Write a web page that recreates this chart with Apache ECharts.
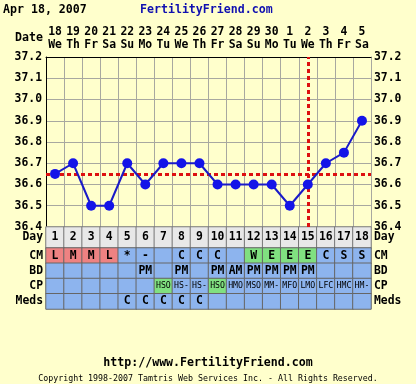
<!DOCTYPE html>
<html><head><meta charset="utf-8">
<script src="https://cdn.jsdelivr.net/npm/echarts@6/dist/echarts.min.js"></script>
<style>html,body{margin:0;padding:0;background:#FFFFCC}#c{width:416px;height:384px}</style>
</head><body><div id="c"></div>
<script>
// ---- data ----
const dates = ['18','19','20','21','22','23','24','25','26','27','28','29','30','1','2','3','4','5'];
const weekdays = ['We','Th','Fr','Sa','Su','Mo','Tu','We','Th','Fr','Sa','Su','Mo','Tu','We','Th','Fr','Sa'];
const cycleDays = [1,2,3,4,5,6,7,8,9,10,11,12,13,14,15,16,17,18];
const temps = [36.65,36.7,36.5,36.5,36.7,36.6,36.7,36.7,36.7,36.6,36.6,36.6,36.6,36.5,36.6,36.7,36.75,36.9];
const coverline = 36.65;
const ovulationDay = 15;
const tempMin = 36.4, tempMax = 37.2, tempStep = 0.1;
const rowNames = ['CM','BD','CP','Meds'];
const cm = ['L','M','M','L','*','-','','C','C','C','','W','E','E','E','C','S','S'];
const bd = ['','','','','','PM','','PM','','PM','AM','PM','PM','PM','PM','','',''];
const cp = ['','','','','','','HSO','HS-','HS-','HSO','HMO','MSO','MM-','MFO','LMO','LFC','HMC','HM-'];
const meds = ['','','','','C','C','C','C','C','','','','','','','','',''];
const headerDate = 'Apr 18, 2007';
const siteName = 'FertilityFriend.com';
const siteUrl = 'http://www.FertilityFriend.com';
const copyright = 'Copyright 1998-2007 Tamtris Web Services Inc. - All Rights Reserved.';

// ---- styles ----
const MONO = '"DejaVu Sans Mono", monospace';
const BLUE_CELL = '#8DB4EE', RED_CELL = '#EE8282', GREEN_CELL = '#80E080', GRAY_CELL = '#E8E8E8';
const GRID = '#A8A8A0';
function cellColor(row, v){
  if (row === 'CM' && (v === 'L' || v === 'M' || v === 'H')) return RED_CELL;
  if (row === 'CM' && (v === 'W' || v === 'E')) return GREEN_CELL;
  if (row === 'CP' && v === 'HSO') return GREEN_CELL;
  return BLUE_CELL;
}
const rowData = {CM: cm, BD: bd, CP: cp, Meds: meds};
const tableData = [];
rowNames.forEach((r, ri) => {
  rowData[r].forEach((v, i) => {
    tableData.push({
      value: [i, ri, 1], name: v,
      itemStyle: {color: cellColor(r, v)},
      label: r === 'CP' ? {fontSize: 8.2, fontWeight: 'normal'} : {}
    });
  });
});
const dayData = cycleDays.map((d, i) => ({value: [i, 0, 1], name: String(d), itemStyle: {color: GRAY_CELL}}));

const chart = echarts.init(document.getElementById('c'), null, {renderer: 'canvas'});
const lblBase = {fontFamily: MONO, fontWeight: 'bold', fontSize: 11.4, color: '#000'};
const catLabels = dates.map((d, i) => d + '\n' + weekdays[i]);
const L = 46, W = 325;
chart.setOption({
  backgroundColor: '#FFFFCC',
  animation: false,
  grid: [
    {left: L, top: 57, width: W, height: 170},
    {left: L, top: 227, width: W, height: 21},
    {left: L, top: 248, width: W, height: 61}
  ],
  xAxis: [
    {gridIndex: 0, type: 'category', position: 'top', data: catLabels, boundaryGap: true,
     axisTick: {show: false}, axisLine: {lineStyle: {color: '#000', width: 1}},
     axisLabel: Object.assign({interval: 0, lineHeight: 13, margin: 5}, lblBase),
     splitLine: {show: true, interval: 0, lineStyle: {color: GRID, width: 1}}},
    {gridIndex: 1, type: 'category', data: catLabels, show: false},
    {gridIndex: 2, type: 'category', data: catLabels, show: false}
  ],
  yAxis: [
    {gridIndex: 0, type: 'value', min: tempMin, max: tempMax, interval: tempStep, position: 'left',
     axisLine: {show: true, lineStyle: {color: '#000'}}, axisTick: {show: false},
     axisLabel: Object.assign({margin: 4, formatter: v => v.toFixed(1)}, lblBase),
     splitLine: {show: true, lineStyle: {color: GRID, width: 1}}},
    {gridIndex: 0, type: 'value', min: tempMin, max: tempMax, interval: tempStep, position: 'right',
     axisLine: {show: true, lineStyle: {color: GRID}}, axisTick: {show: false},
     axisLabel: Object.assign({margin: 3, formatter: v => v.toFixed(1)}, lblBase),
     splitLine: {show: false}},
    {gridIndex: 1, type: 'category', data: ['Day'], position: 'left', axisLine: {show: false}, axisTick: {show: false},
     axisLabel: Object.assign({margin: 3, interval: 0}, lblBase)},
    {gridIndex: 1, type: 'category', data: ['Day'], position: 'right', axisLine: {show: false}, axisTick: {show: false},
     axisLabel: Object.assign({margin: 3, interval: 0}, lblBase)},
    {gridIndex: 2, type: 'category', data: rowNames, inverse: true, position: 'left', axisLine: {show: false}, axisTick: {show: false},
     axisLabel: Object.assign({margin: 3, interval: 0}, lblBase)},
    {gridIndex: 2, type: 'category', data: rowNames, inverse: true, position: 'right', axisLine: {show: false}, axisTick: {show: false},
     axisLabel: Object.assign({margin: 3, interval: 0}, lblBase)}
  ],
  series: [
    {type: 'line', xAxisIndex: 0, yAxisIndex: 0, data: temps, symbol: 'circle', symbolSize: 10,
     itemStyle: {color: '#1414E8'}, lineStyle: {color: '#1A1AC8', width: 2}, z: 5,
     markLine: {silent: true, symbol: 'none', label: {show: false}, z: 3,
       lineStyle: {color: '#DD1010', width: 3, type: [4, 3]},
       data: [{yAxis: coverline}, {xAxis: ovulationDay - 1}]}},
    {type: 'heatmap', xAxisIndex: 1, yAxisIndex: 2, data: dayData, silent: true,
     itemStyle: {borderColor: '#777', borderWidth: 1},
     label: Object.assign({show: true, formatter: '{b}'}, lblBase)},
    {type: 'heatmap', xAxisIndex: 2, yAxisIndex: 4, data: tableData, silent: true,
     itemStyle: {borderColor: '#666', borderWidth: 1},
     label: Object.assign({show: true, formatter: '{b}'}, lblBase)}
  ],
  graphic: [
    {type: 'text', left: 3, top: 4, style: {text: headerDate, font: 'bold 11.6px ' + MONO, fill: '#000'}},
    {type: 'text', left: 140, top: 4, style: {text: siteName, font: 'bold 11.6px ' + MONO, fill: '#1010B0'}},
    {type: 'text', right: 373, top: 32, style: {text: 'Date', font: 'bold 11.6px ' + MONO, fill: '#000'}},
    {type: 'text', left: 'center', top: 357, style: {text: siteUrl, font: 'bold 11.6px ' + MONO, fill: '#000'}},
    {type: 'text', left: 'center', top: 375, style: {text: copyright, font: '8.3px ' + MONO, fill: '#000'}}
  ]
});
</script></body></html>
